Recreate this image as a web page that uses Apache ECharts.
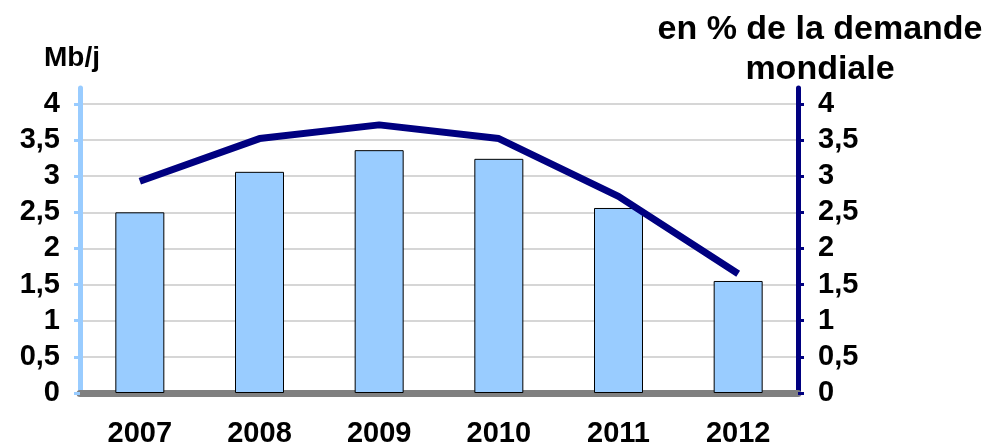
<!DOCTYPE html>
<html>
<head>
<meta charset="utf-8">
<script src="https://cdn.jsdelivr.net/npm/echarts@6/dist/echarts.min.js"></script>
<style>
  html, body { margin: 0; padding: 0; background: #fff; }
  #chart { width: 996px; height: 444px; }
</style>
</head>
<body>
<div id="chart"></div>
<script>
const years = ['2007', '2008', '2009', '2010', '2011', '2012'];
const volumeMbj = [2.5, 3.06, 3.36, 3.24, 2.56, 1.55];
const shareOfDemand = [2.93, 3.52, 3.71, 3.52, 2.72, 1.65];

const FONT = '"Liberation Sans", Arial, sans-serif';
const fmt = v => String(v).replace('.', ',');

const chart = echarts.init(document.getElementById('chart'));
chart.setOption({
  animation: false,
  grid: { left: 80, right: 198, top: 88, bottom: 51, outerBoundsMode: 'none', containLabel: false },
  graphic: [
    {
      type: 'text', x: 44, y: 44,
      style: { text: 'Mb/j', font: 'bold 28px ' + FONT, fill: '#000' }
    },
    {
      type: 'text', x: 820, y: 10,
      style: {
        text: 'en % de la demande\nmondiale',
        font: 'bold 34px ' + FONT, fill: '#000',
        align: 'center', lineHeight: 40
      }
    }
  ],
  xAxis: {
    type: 'category',
    data: years,
    axisLine: { lineStyle: { color: '#808080', width: 7 } },
    axisTick: { show: false },
    axisLabel: { color: '#000', fontFamily: FONT, fontWeight: 'bold', fontSize: 29, margin: 26 }
  },
  yAxis: [
    {
      type: 'value', min: 0, max: 4.22, interval: 0.5, position: 'left',
      axisLine: { show: true, lineStyle: { color: '#99ccff', width: 5 } },
      axisTick: { show: true, length: 6, lineStyle: { color: '#99ccff', width: 3 } },
      splitLine: { showMaxLine: false, lineStyle: { color: '#c8c8c8', width: 1.5 } },
      axisLabel: { showMaxLabel: false, color: '#000', fontFamily: FONT, fontWeight: 'bold', fontSize: 29, margin: 20, formatter: fmt }
    },
    {
      type: 'value', min: 0, max: 4.22, interval: 0.5, position: 'right',
      axisLine: { show: true, lineStyle: { color: '#000080', width: 5 } },
      axisTick: { show: true, length: 6, lineStyle: { color: '#000080', width: 3 } },
      splitLine: { show: false },
      axisLabel: { showMaxLabel: false, color: '#000', fontFamily: FONT, fontWeight: 'bold', fontSize: 29, margin: 20, formatter: fmt }
    }
  ],
  series: [
    {
      type: 'bar',
      yAxisIndex: 0,
      barWidth: 49,
      data: volumeMbj,
      itemStyle: { color: '#99ccff', borderColor: '#000', borderWidth: 1 },
      z: 2
    },
    {
      type: 'line',
      yAxisIndex: 1,
      data: shareOfDemand,
      showSymbol: false,
      symbol: 'none',
      lineStyle: { color: '#000080', width: 7 },
      z: 3
    }
  ]
});
</script>
</body>
</html>
